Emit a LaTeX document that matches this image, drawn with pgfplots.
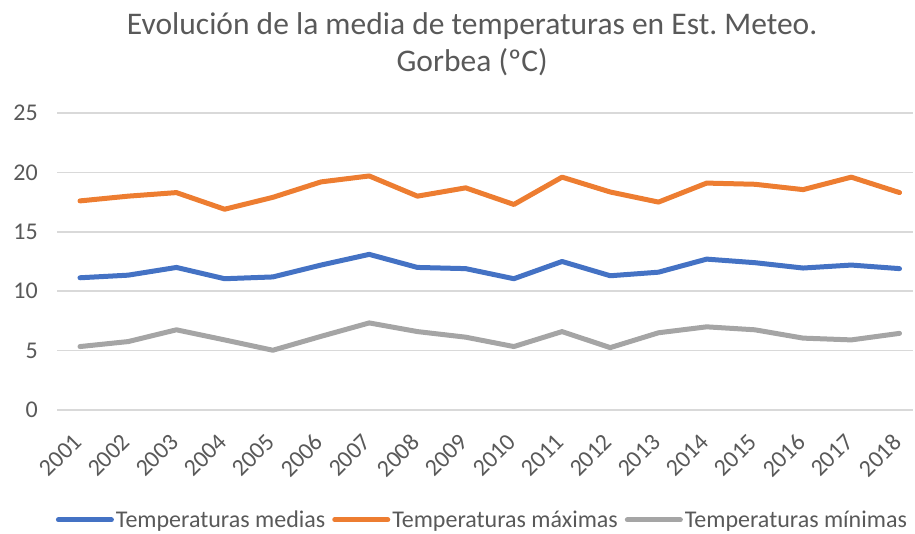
\documentclass[border=0pt]{standalone}
\usepackage{fontspec}
\setmainfont{Carlito}
\usepackage{pgfplots}
\pgfplotsset{compat=1.18}
\definecolor{serA}{HTML}{4472C4}
\definecolor{serB}{HTML}{ED7D31}
\definecolor{serC}{HTML}{A5A5A5}
\definecolor{txt}{HTML}{595959}
\definecolor{grd}{HTML}{D9D9D9}
\begin{document}
\frenchspacing
\begin{tikzpicture}
\useasboundingbox (-57pt,-124pt) rectangle (858pt,410pt);
\begin{axis}[
  scale only axis,
  width=856pt, height=297pt,
  xmin=0.523, xmax=18.28,
  ymin=0, ymax=25,
  ytick={0,5,...,25},
  xtick={1,...,18},
  xticklabels={2001,2002,2003,2004,2005,2006,2007,2008,2009,2010,2011,2012,2013,2014,2015,2016,2017,2018},
  axis line style={draw=none},
  major tick length=0pt,
  ymajorgrids,
  grid style={grd, line width=1.5pt},
  tick label style={font=\fontsize{24}{28}\selectfont, text=txt},
  /pgf/number format/assume math mode=true,
  yticklabel style={anchor=east, inner sep=0pt, xshift=-19pt},
  xticklabel style={inner sep=0pt, xshift=-2pt, yshift=-28pt, rotate=45, anchor=east},
  title={Evolución de la media de temperaturas en Est. Meteo.\\Gorbea (ºC)},
  title style={at={(0.485,1.21)}, anchor=center, align=center,
    font=\fontsize{31.5}{37}\selectfont, text=txt},
  legend columns=3,
  legend style={at={(0.497,-0.37)}, anchor=center, draw=none, fill=none,
    font=\fontsize{24}{28}\selectfont, text=txt, inner sep=0pt,
    /tikz/every even column/.append style={column sep=5pt}},
  legend image code/.code={\draw[#1] (0pt,0pt) -- (53pt,0pt);},
  every axis plot/.append style={line width=5pt, line cap=round, line join=round},
]
\addplot[serA] coordinates {
  (1,11.13) (2,11.35) (3,12.0) (4,11.05) (5,11.2) (6,12.2) (7,13.1) (8,12.0) (9,11.9)
  (10,11.05) (11,12.5) (12,11.3) (13,11.6) (14,12.7) (15,12.4) (16,11.95) (17,12.2) (18,11.9)
};
\addlegendentry{Temperaturas medias}
\addplot[serB] coordinates {
  (1,17.6) (2,18.0) (3,18.3) (4,16.9) (5,17.9) (6,19.2) (7,19.7) (8,18.0) (9,18.7)
  (10,17.3) (11,19.6) (12,18.35) (13,17.5) (14,19.1) (15,19.0) (16,18.55) (17,19.6) (18,18.3)
};
\addlegendentry{Temperaturas máximas}
\addplot[serC] coordinates {
  (1,5.34) (2,5.76) (3,6.75) (4,5.9) (5,5.03) (6,6.2) (7,7.33) (8,6.6) (9,6.13)
  (10,5.34) (11,6.6) (12,5.25) (13,6.5) (14,7.0) (15,6.75) (16,6.05) (17,5.9) (18,6.45)
};
\addlegendentry{Temperaturas mínimas}
\end{axis}
\end{tikzpicture}
\end{document}
